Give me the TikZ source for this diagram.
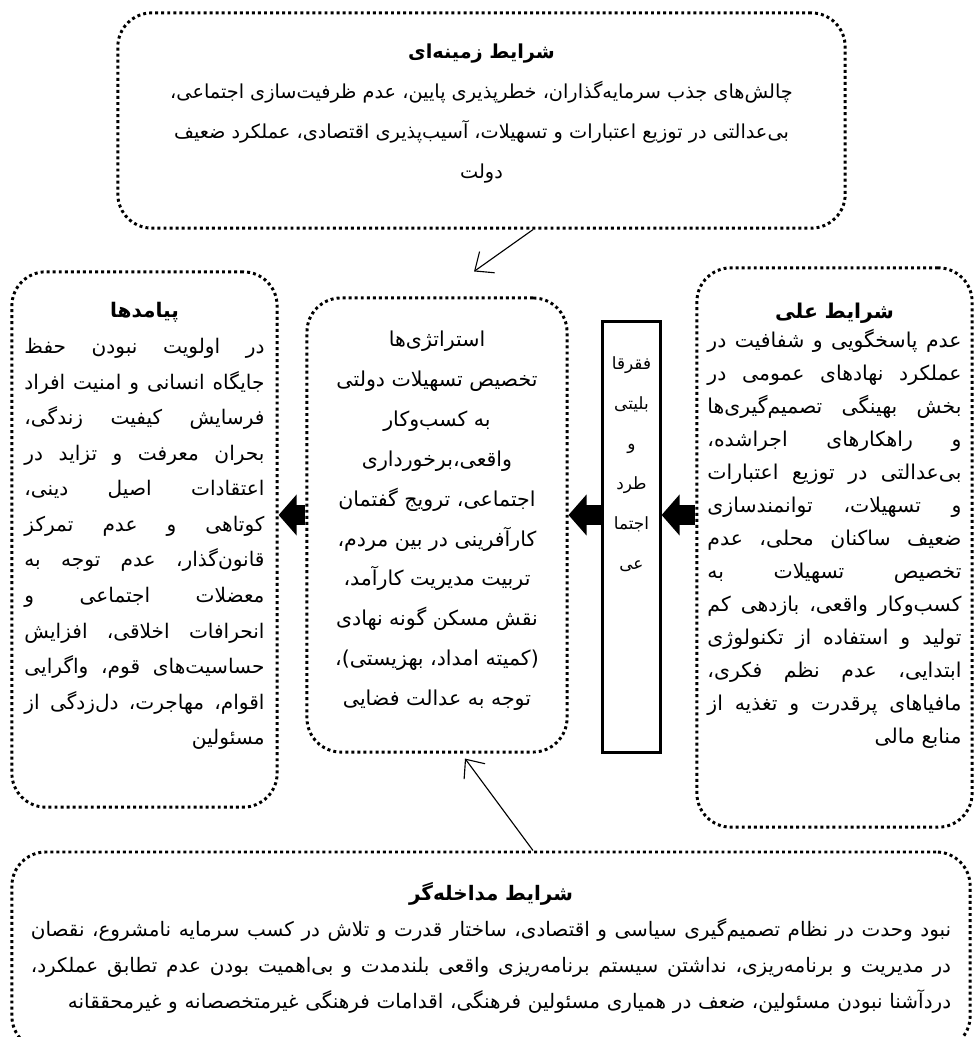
\documentclass[tikz,border=0pt]{standalone}
\usepackage{fontspec}
\newfontfamily\fafont[Script=Arabic]{DejaVu Sans}
\TeXXeTstate=1
\usetikzlibrary{arrows.meta,positioning,calc}
\newcommand{\fa}[1]{\beginR #1\endR}
\newcommand{\jline}[1]{\leavevmode\hbox to \hsize{\spaceskip=0.3em plus 1fil minus 0.1em\beginR #1\endR}}
\newcommand{\rline}[1]{\leavevmode\hbox to \hsize{\hfil\beginR #1\endR}}
\tikzset{
    dotbox/.style   = {draw, line width=2.1pt, dash pattern=on 2.1pt off 2.2pt,
            rounded corners=0.85cm, inner sep=0pt},
    plainbox/.style = {draw, line width=2.1pt, inner sep=0pt},
    txt/.style      = {inner sep=0pt, align=center, font=\fafont},
    thinline/.style = {-{Straight Barb[length=0.38cm,width=0.65cm]}, line width=0.8pt},
    fatline/.style  = {-{Triangle[length=0.45cm,width=1cm]}, line width=0.5cm},
}

\begin{document}
\begin{tikzpicture}[x=0.025cm,y=0.025cm]
    \useasboundingbox (0,0) rectangle (973,-1037);
    % Boxes
    \node[dotbox, minimum width=18.18cm, minimum height=5.38cm] (context) at (481.5,-120.5) {};
    \node[dotbox, minimum width=6.88cm, minimum height=13.98cm] (causal) at (834.5,-547.5) {};
    \node[plainbox, minimum width=1.43cm, minimum height=10.75cm] (phenom) at (631.5,-537) {};
    \node[dotbox, minimum width=6.5cm, minimum height=11.35cm] (strategy) at (437,-525) {};
    \node[dotbox, minimum width=6.63cm, minimum height=13.38cm] (outcome) at (144.5,-539.5) {};
    \node[dotbox, minimum width=23.95cm, minimum height=4.95cm] (intervene) at (491,-951) {};
    % Texts
    \node[txt, below=0.8cm of context.north, font=\fafont\fontsize{13.7}{28.4}\selectfont] (contexttxt) {
        {\bfseries\fa{شرایط زمینه‌ای}}\\
        \fa{چالش‌های جذب سرمایه‌گذاران، خطرپذیری پایین، عدم ظرفیت‌سازی اجتماعی،}\\
        \fa{بی‌عدالتی در توزیع اعتبارات و تسهیلات، آسیب‌پذیری اقتصادی، عملکرد ضعیف}\\
        \fa{دولت}};
    \node[txt, text width=6.35cm, below=0.92cm of causal.north, font=\fafont\fontsize{14.5}{23.5}\selectfont] (causaltxt) {
        {\bfseries\fa{شرایط علی}}\\[-0.12cm]
        \jline{عدم پاسخگویی و شفافیت در}\\
        \jline{عملکرد نهادهای عمومی در}\\
        \jline{بخش بهینگی تصمیم‌گیری‌ها}\\
        \jline{و راهکارهای اجراشده،}\\
        \jline{بی‌عدالتی در توزیع اعتبارات}\\
        \jline{و تسهیلات، توانمندسازی}\\
        \jline{ضعیف ساکنان محلی، عدم}\\
        \jline{تخصیص تسهیلات به}\\
        \jline{کسب‌وکار واقعی، بازدهی کم}\\
        \jline{تولید و استفاده از تکنولوژی}\\
        \jline{ابتدایی، عدم نظم فکری،}\\
        \jline{مافیاهای پرقدرت و تغذیه از}\\
        \rline{منابع مالی}};
    \node[txt, below=0.9cm of phenom.north, font=\fafont\fontsize{12}{28.4}\selectfont] (phenomtxt) {
        \fa{فقرقا}\\ \fa{بلیتی}\\ \fa{و}\\ \fa{طرد}\\ \fa{اجتما}\\ \fa{عی}};
    \node[txt, below=0.85cm of strategy.north, font=\fafont\fontsize{14.6}{28.4}\selectfont] (strategytxt) {
        \fa{استراتژی‌ها}\\
        \fa{تخصیص تسهیلات دولتی}\\
        \fa{به کسب‌وکار}\\
        \fa{واقعی،برخورداری}\\
        \fa{اجتماعی، ترویج گفتمان}\\
        \fa{کارآفرینی در بین مردم،}\\
        \fa{تربیت مدیریت کارآمد،}\\
        \fa{نقش مسکن گونه نهادی}\\
        \fa{(کمیته امداد، بهزیستی)،}\\
        \fa{توجه به عدالت فضایی}};
    \node[txt, text width=6cm, below=0.8cm of outcome.north, font=\fafont\fontsize{14.3}{25.3}\selectfont] (outcometxt) {
        {\bfseries\fa{پیامدها}}\\
        \jline{در اولویت نبودن حفظ}\\
        \jline{جایگاه انسانی و امنیت افراد}\\
        \jline{فرسایش کیفیت زندگی،}\\
        \jline{بحران معرفت و تزاید در}\\
        \jline{اعتقادات اصیل دینی،}\\
        \jline{کوتاهی و عدم تمرکز}\\
        \jline{قانون‌گذار، عدم توجه به}\\
        \jline{معضلات اجتماعی و}\\
        \jline{انحرافات اخلاقی، افزایش}\\
        \jline{حساسیت‌های قوم، واگرایی}\\
        \jline{اقوام، مهاجرت، دل‌زدگی از}\\
        \rline{مسئولین}};
    \node[txt, text width=23cm, below=0.8cm of intervene.north, font=\fafont\fontsize{14.2}{25.6}\selectfont] (intervenetxt) {
        {\bfseries\fa{شرایط مداخله‌گر}}\\
        \jline{نبود وحدت در نظام تصمیم‌گیری سیاسی و اقتصادی، ساختار قدرت و تلاش در کسب سرمایه نامشروع، نقصان}\\
        \jline{در مدیریت و برنامه‌ریزی، نداشتن سیستم برنامه‌ریزی واقعی بلندمدت و بی‌اهمیت بودن عدم تطابق عملکرد،}\\
        \rline{دردآشنا نبودن مسئولین، ضعف در همیاری مسئولین فرهنگی، اقدامات فرهنگی غیرمتخصصانه و غیرمحققانه}};
    % Arrows
    \coordinate (mid) at (0,-515);
    \draw[fatline] (causal.west |- mid) -- (phenom.east |- mid);
    \draw[fatline] (phenom.west |- mid) -- (strategy.east |- mid);
    \draw[fatline] (strategy.west |- mid) -- (outcome.east |- mid);
    \draw[thinline] ($(context.south)+(51.5,0)$) -- ($(strategy.north)+(37,25)$);
    \draw[thinline] ($(intervene.north)+(42,0)$) -- ($(strategy.south)+(28,-5)$);
\end{tikzpicture}
\end{document}
